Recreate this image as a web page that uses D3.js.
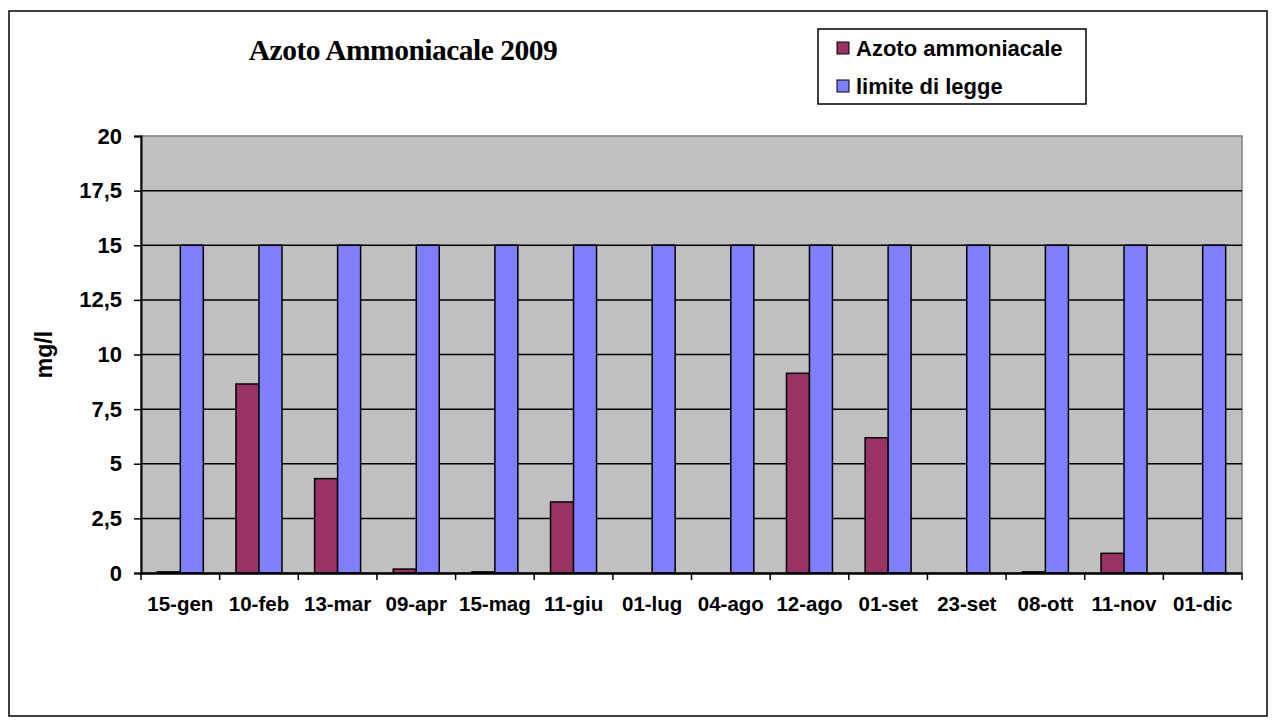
<!DOCTYPE html>
<html>
<head>
<meta charset="utf-8">
<script src="https://cdn.jsdelivr.net/npm/d3@7"></script>
<style>
  body { margin: 0; background: #fff; }
</style>
</head>
<body>
<svg></svg>
<script>
var width = 1276;
var height = 726;
var sans = "Liberation Sans, Arial, sans-serif";

// sampling dates 2009
var categories = ["15-gen", "10-feb", "13-mar", "09-apr", "15-mag", "11-giu", "01-lug",
                  "04-ago", "12-ago", "01-set", "23-set", "08-ott", "11-nov", "01-dic"];
var azoto = [0.05, 8.65, 4.32, 0.18, 0.05, 3.25, null, null, 9.14, 6.19, null, 0.05, 0.9, null];
var limite = [15, 15, 15, 15, 15, 15, 15, 15, 15, 15, 15, 15, 15, 15];
var seriesNames = ["Azoto ammoniacale", "limite di legge"];
var seriesColors = ["#993366", "#8080FF"];
var yTicks = [0, 2.5, 5, 7.5, 10, 12.5, 15, 17.5, 20];

var plot = { left: 141, right: 1242, top: 136, bottom: 573 };

var svg = d3.select("svg")
              .attr("width", width)
              .attr("height", height);

// outer chart frame
svg.append("rect")
   .attr("x", 9).attr("y", 11)
   .attr("width", 1258).attr("height", 705)
   .attr("fill", "#fff")
   .attr("stroke", "#000")
   .attr("stroke-width", 1.5);

var x = d3.scaleBand()
          .domain(categories)
          .range([plot.left, plot.right]);

var xInner = d3.scaleBand()
               .domain(seriesNames)
               .range([0, x.bandwidth()])
               .paddingOuter(0.71);

var y = d3.scaleLinear()
          .domain([0, 20])
          .range([plot.bottom, plot.top]);

// plot background
svg.append("rect")
   .attr("x", plot.left).attr("y", plot.top)
   .attr("width", plot.right - plot.left)
   .attr("height", plot.bottom - plot.top)
   .attr("fill", "#C0C0C0")
   .attr("stroke", "#808080")
   .attr("stroke-width", 1.5);

// gridlines
svg.append("g")
   .selectAll("line")
   .data(yTicks.filter(d => d > 0 && d < 20))
   .enter()
   .append("line")
     .attr("x1", plot.left).attr("x2", plot.right)
     .attr("y1", d => y(d)).attr("y2", d => y(d))
     .attr("stroke", "#000")
     .attr("stroke-width", 1.5);

// bars
var rows = categories.map((c, i) => ({ cat: c, values: [azoto[i], limite[i]] }));

var groups = svg.append("g")
                .selectAll("g")
                .data(rows)
                .enter()
                .append("g")
                  .attr("transform", d => "translate(" + x(d.cat) + ",0)");

groups.selectAll("rect")
      .data(d => d.values.map((v, j) => ({ name: seriesNames[j], value: v, color: seriesColors[j] })))
      .enter()
      .filter(d => d.value != null)
      .append("rect")
        .attr("x", d => xInner(d.name))
        .attr("width", xInner.bandwidth())
        .attr("y", d => y(d.value))
        .attr("height", d => plot.bottom - y(d.value))
        .attr("fill", d => d.color)
        .attr("stroke", "#000")
        .attr("stroke-width", 1.5);

// y axis
var yAxis = svg.append("g")
               .attr("transform", "translate(" + plot.left + ",0)")
               .call(d3.axisLeft(y)
                       .tickValues(yTicks)
                       .tickSize(7)
                       .tickPadding(12)
                       .tickFormat(d => String(d).replace(".", ",")));
yAxis.select(".domain").attr("stroke-width", 2);
yAxis.selectAll(".tick line").attr("stroke-width", 1.5);
yAxis.selectAll("text")
     .attr("font-size", 22)
     .attr("font-family", sans)
     .attr("font-weight", "bold")
     .attr("fill", "#000");

// x axis
var xAxis = svg.append("g")
               .attr("transform", "translate(0," + plot.bottom + ")")
               .call(d3.axisBottom(x).tickSize(0).tickPadding(23));
xAxis.select(".domain").attr("stroke-width", 2.5);
xAxis.selectAll("text")
     .attr("font-size", 20.5)
     .attr("font-family", sans)
     .attr("font-weight", "bold")
     .attr("fill", "#000");

// category boundary ticks
svg.append("g")
   .selectAll("line")
   .data(categories.concat(["end"]))
   .enter()
   .append("line")
     .attr("x1", (d, i) => i < categories.length ? x(d) : plot.right)
     .attr("x2", (d, i) => i < categories.length ? x(d) : plot.right)
     .attr("y1", plot.bottom)
     .attr("y2", plot.bottom + 7)
     .attr("stroke", "#000")
     .attr("stroke-width", 1.5);

// axis title
svg.append("text")
   .attr("transform", "translate(52," + ((plot.top + plot.bottom) / 2) + ") rotate(-90)")
   .attr("text-anchor", "middle")
   .attr("font-family", sans)
   .attr("font-weight", "bold")
   .attr("font-size", 23)
   .text("mg/l");

// chart title
svg.append("text")
   .attr("x", 403).attr("y", 60)
   .attr("text-anchor", "middle")
   .attr("font-family", "Liberation Serif, Times New Roman, serif")
   .attr("font-weight", "bold")
   .attr("font-size", 29.5)
   .attr("letter-spacing", -0.5)
   .text("Azoto Ammoniacale 2009");

// legend
var legend = svg.append("g");
legend.append("rect")
      .attr("x", 818).attr("y", 29)
      .attr("width", 268).attr("height", 75)
      .attr("fill", "#fff")
      .attr("stroke", "#000")
      .attr("stroke-width", 1.5);

var items = legend.selectAll("g.item")
                  .data(seriesNames)
                  .enter()
                  .append("g")
                    .attr("class", "item")
                    .attr("transform", (d, i) => "translate(837," + (42 + i * 38) + ")");
items.append("rect")
     .attr("width", 12).attr("height", 12)
     .attr("fill", (d, i) => seriesColors[i])
     .attr("stroke", "#000")
     .attr("stroke-width", 1);
items.append("text")
     .attr("x", 19).attr("y", 14)
     .attr("font-family", sans)
     .attr("font-weight", "bold")
     .attr("font-size", 22)
     .text(d => d);
</script>
</body>
</html>
